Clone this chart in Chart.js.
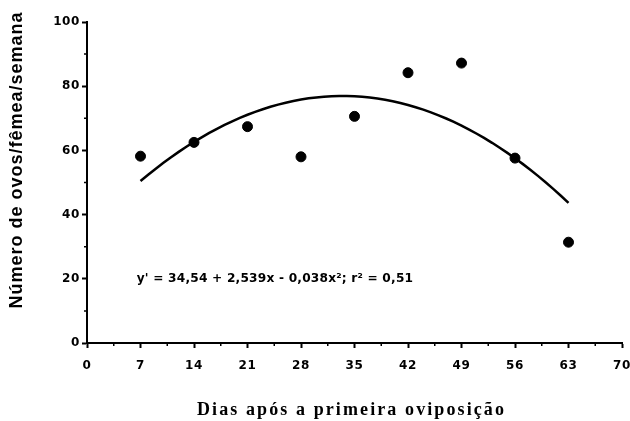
<!DOCTYPE html>
<html>
<head>
<meta charset="utf-8">
<script src="https://cdn.jsdelivr.net/npm/chart.js@4"></script>
<style>
  html, body { margin: 0; padding: 0; background: #fff; }
  #wrap { width: 630px; height: 421px; }
</style>
</head>
<body>
<div id="wrap"><canvas id="c" width="630" height="421"></canvas></div>
<script>
// Observed eggs per female per week, by days after the first oviposition
const days = [7, 14, 21, 28, 35, 42, 49, 56, 63];
const eggs = [58.2, 62.5, 67.4, 58.0, 70.6, 84.2, 87.2, 57.6, 31.4];

// Quadratic fit y' = a + b·x + c·x² (coefficients as printed on the chart)
const coef = [34.54, 2.539, -0.038];
const fitRange = [7, 63];
const eqText = "y' = 34,54 + 2,539x - 0,038x\u00B2; r\u00B2 = 0,51";

// Axis ticks and titles
const xTicks = [0, 7, 14, 21, 28, 35, 42, 49, 56, 63, 70];
const yTicks = [0, 20, 40, 60, 80, 100];
const xMinor = [3.5, 10.5, 17.5, 24.5, 31.5, 38.5, 45.5, 52.5, 59.5, 66.5];
const yMinor = [10, 30, 50, 70, 90];
const xTitle = 'Dias após a primeira oviposição';
const yTitle = 'Número de ovos/fêmea/semana';

const fitCurve = [];
for (let x = fitRange[0]; x <= fitRange[1]; x += 1) {
  fitCurve.push({ x: x, y: coef[0] + coef[1] * x + coef[2] * x * x });
}
const points = days.map((d, i) => ({ x: d, y: eggs[i] }));

const tickFont = { family: 'DejaVu Sans', weight: 'bold', size: 12 };

// Minor tick marks, axis titles and the regression equation
const extras = {
  id: 'extras',
  beforeDraw(chart) {
    chart.ctx.letterSpacing = '0.6px';
  },
  afterDraw(chart) {
    const ctx = chart.ctx;
    const xs = chart.scales.x, ys = chart.scales.y;
    ctx.save();
    ctx.strokeStyle = '#000';
    ctx.lineWidth = 1.5;
    ctx.beginPath();
    xMinor.forEach(v => {
      const px = xs.getPixelForValue(v);
      ctx.moveTo(px, ys.bottom);
      ctx.lineTo(px, ys.bottom + 3);
    });
    yMinor.forEach(v => {
      const py = ys.getPixelForValue(v);
      ctx.moveTo(xs.left, py);
      ctx.lineTo(xs.left - 3, py);
    });
    ctx.stroke();

    ctx.fillStyle = '#000';
    ctx.textBaseline = 'middle';

    // regression equation
    ctx.letterSpacing = '0.2px';
    ctx.font = 'bold 12.2px "DejaVu Sans"';
    ctx.textAlign = 'left';
    ctx.fillText(eqText, xs.getPixelForValue(6.5), ys.getPixelForValue(20));

    // x axis title
    ctx.letterSpacing = '2.1px';
    ctx.font = 'bold 18px "Liberation Serif"';
    ctx.textAlign = 'center';
    ctx.fillText(xTitle, (xs.left + xs.right) / 2 - 3, ys.bottom + 67);

    // y axis title
    ctx.letterSpacing = '1px';
    ctx.font = 'bold 18px "Liberation Sans"';
    ctx.translate(17, ys.getPixelForValue(57));
    ctx.rotate(-Math.PI / 2);
    ctx.fillText(yTitle, 0, 0);
    ctx.restore();
  }
};

new Chart(document.getElementById('c'), {
  type: 'scatter',
  data: {
    datasets: [
      {
        data: points,
        backgroundColor: '#000',
        borderColor: '#000',
        pointRadius: 5,
        pointHoverRadius: 5,
        showLine: false
      },
      {
        type: 'line',
        data: fitCurve,
        borderColor: '#000',
        borderWidth: 2.5,
        pointRadius: 0,
        fill: false,
        tension: 0
      }
    ]
  },
  options: {
    responsive: false,
    animation: false,
    devicePixelRatio: 1,
    layout: { padding: { left: 0, right: 8, top: 22, bottom: 0 } },
    plugins: { legend: { display: false }, tooltip: { enabled: false } },
    scales: {
      x: {
        type: 'linear',
        min: 0,
        max: 70,
        afterBuildTicks: s => { s.ticks = xTicks.map(v => ({ value: v })); },
        afterFit: s => { s.height = 78; s.paddingLeft = 0; s.paddingRight = 0; },
        border: { color: '#000', width: 2 },
        grid: { drawOnChartArea: false, drawTicks: true, tickLength: 5, tickWidth: 2, tickColor: '#000' },
        ticks: { color: '#000', font: tickFont, padding: 11, maxRotation: 0, autoSkip: false }
      },
      y: {
        type: 'linear',
        min: 0,
        max: 100,
        afterBuildTicks: s => { s.ticks = yTicks.map(v => ({ value: v })); },
        afterFit: s => { s.width = 87; },
        border: { color: '#000', width: 2 },
        grid: { drawOnChartArea: false, drawTicks: true, tickLength: 5, tickWidth: 2, tickColor: '#000' },
        ticks: { color: '#000', font: tickFont, padding: 2 }
      }
    }
  },
  plugins: [extras]
});
</script>
</body>
</html>
